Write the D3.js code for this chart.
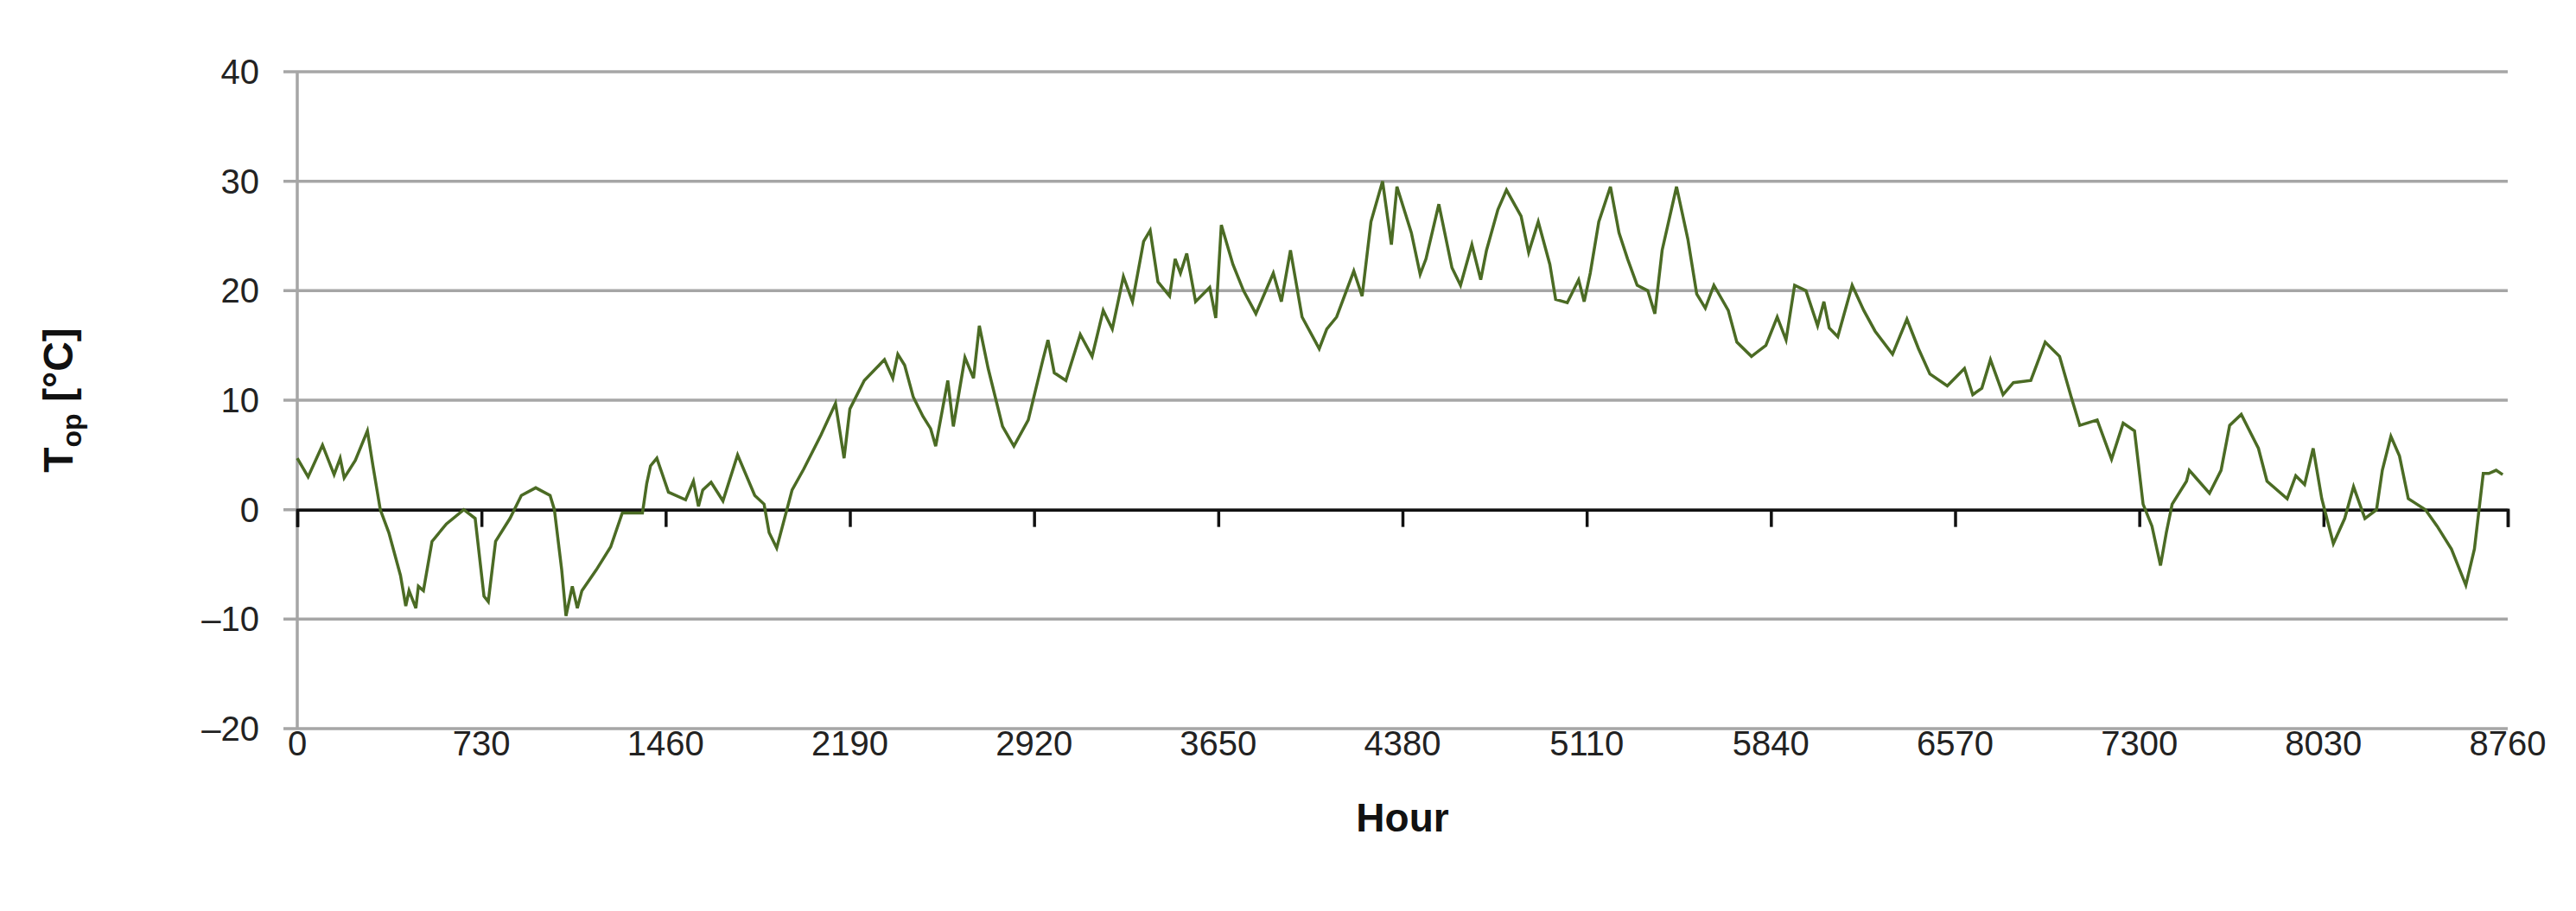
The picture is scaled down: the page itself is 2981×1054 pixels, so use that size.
<!DOCTYPE html>
<html><head><meta charset="utf-8">
<script src="https://cdn.jsdelivr.net/npm/d3@7"></script>
<style>body{margin:0;background:#fff}svg{display:block}</style>
</head><body>
<script>
const hours = [0,43,100,146,170,186,230,278,300,329,363,409,430,443,470,480,500,534,591,660,705,740,757,786,843,888,945,1002,1019,1048,1065,1090,1110,1128,1185,1242,1288,1368,1385,1400,1425,1471,1539,1570,1590,1607,1640,1687,1745,1813,1850,1870,1900,1961,2007,2075,2133,2167,2190,2247,2327,2360,2380,2407,2441,2480,2510,2530,2578,2600,2646,2680,2703,2738,2795,2840,2897,2955,2975,3000,3046,3103,3150,3194,3230,3274,3310,3354,3380,3411,3457,3479,3500,3525,3560,3616,3640,3662,3708,3750,3799,3868,3900,3936,3982,4050,4080,4119,4187,4220,4255,4301,4336,4358,4415,4450,4473,4524,4576,4610,4655,4690,4713,4758,4792,4850,4880,4918,4964,4987,5033,5078,5100,5124,5158,5204,5238,5272,5310,5352,5380,5409,5466,5511,5546,5580,5614,5671,5705,5763,5820,5865,5900,5934,5979,6025,6050,6071,6105,6162,6208,6253,6322,6379,6425,6470,6539,6607,6640,6676,6710,6760,6801,6870,6927,6984,7030,7064,7133,7190,7236,7281,7315,7350,7384,7407,7430,7487,7498,7578,7624,7658,7704,7772,7806,7886,7920,7955,7989,8023,8069,8114,8149,8194,8240,8263,8297,8331,8366,8434,8480,8537,8594,8628,8663,8685,8714,8740];
const temps = [4.7,3.0,5.9,3.2,4.7,2.9,4.5,7.2,4.0,0,-2.1,-6,-8.8,-7.4,-9.0,-7.0,-7.4,-2.9,-1.3,0,-0.8,-7.9,-8.4,-2.9,-0.8,1.3,2.0,1.3,0,-5.5,-9.7,-7.0,-9.0,-7.4,-5.5,-3.4,-0.3,-0.3,2.4,4.0,4.7,1.6,0.9,2.6,0.3,1.8,2.5,0.8,5.0,1.3,0.5,-2.1,-3.5,1.8,3.7,6.8,9.7,4.7,9.2,11.8,13.7,12.0,14.2,13.2,10.3,8.5,7.4,5.8,11.8,7.6,13.9,12.0,16.8,12.9,7.6,5.8,8.2,13.7,15.5,12.5,11.8,16,14.0,18.2,16.5,21.3,19.0,24.5,25.5,20.8,19.5,22.9,21.6,23.4,19.0,20.3,17.5,26,22.4,20.0,17.9,21.6,19.0,23.7,17.6,14.7,16.5,17.6,21.8,19.5,26.3,30,24.2,29.5,25.3,21.5,22.9,27.9,22.1,20.5,24.2,21.0,23.7,27.4,29.2,26.8,23.5,26.3,22.4,19.2,18.9,21,19.0,21.6,26.3,29.5,25.3,22.9,20.5,20,17.9,23.7,29.5,24.7,19.7,18.4,20.5,18.2,15.3,14,15,17.6,15.5,20.5,20,16.8,19.0,16.6,15.8,20.5,18.2,16.3,14.2,17.4,14.7,12.4,11.3,12.9,10.5,11.1,13.7,10.5,11.6,11.8,15.3,14,10.3,7.7,8.2,4.6,7.9,7.2,0.5,-1.5,-5.1,-2.1,0.5,2.6,3.6,1.5,3.6,7.7,8.7,5.6,2.6,1.0,3.1,2.3,5.6,1.0,-3.1,-0.8,2.1,-0.8,0,3.6,6.7,4.9,1.0,0,-1.5,-3.6,-6.9,-3.6,3.3,3.3,3.6,3.2];
const xTicks = [0,730,1460,2190,2920,3650,4380,5110,5840,6570,7300,8030,8760];
const yTicks = [-20,-10,0,10,20,30,40];

const W=2981,H=1054;
const svg=d3.select("body").append("svg").attr("width",W).attr("height",H);
const x=d3.scaleLinear().domain([0,8760]).range([344,2902]);
const y=d3.scaleLinear().domain([-20,40]).range([843,83]);
const font="Liberation Sans, Arial, sans-serif";

svg.append("g").selectAll("line").data(yTicks).join("line")
  .attr("x1",328).attr("x2",2902).attr("y1",d=>y(d)).attr("y2",d=>y(d))
  .attr("stroke","#a6a6a6").attr("stroke-width",3.5);
svg.append("line").attr("x1",344).attr("x2",344).attr("y1",y(40)).attr("y2",y(-20))
  .attr("stroke","#a6a6a6").attr("stroke-width",3.5);
svg.append("g").selectAll("text").data(yTicks).join("text")
  .attr("x",300).attr("y",d=>y(d)).attr("dy","0.35em").attr("text-anchor","end")
  .attr("font-family",font).attr("font-size",40).attr("fill","#222")
  .text(d=>d<0?"\u2013"+Math.abs(d):d);
const xAxis=d3.axisBottom(x).tickValues(xTicks).tickSize(20).tickFormat("");
const gx=svg.append("g").attr("transform",`translate(0,${y(0)})`).call(xAxis);
gx.select(".domain").attr("stroke","#111").attr("stroke-width",3.5);
gx.selectAll(".tick line").attr("stroke","#111").attr("stroke-width",3.5);
svg.append("g").selectAll("text").data(xTicks).join("text")
  .attr("x",d=>x(d)).attr("y",874).attr("text-anchor","middle")
  .attr("font-family",font).attr("font-size",40).attr("fill","#222").text(d=>d);
const line=d3.line().x((d,i)=>x(hours[i])).y(d=>y(d));
svg.append("path").datum(temps).attr("d",line).attr("fill","none")
  .attr("stroke","#4b6b24").attr("stroke-width",3.5).attr("stroke-linejoin","miter");
svg.append("text").attr("x",(344+2902)/2).attr("y",962).attr("text-anchor","middle")
  .attr("font-family",font).attr("font-size",46).attr("font-weight","bold").attr("fill","#111").text("Hour");
const yt=svg.append("text").attr("transform","translate(84,463) rotate(-90)").attr("text-anchor","middle")
  .attr("font-family",font).attr("font-size",48).attr("font-weight","bold").attr("fill","#111");
yt.append("tspan").text("T");
yt.append("tspan").attr("font-size",32).attr("dy",10).text("op");
yt.append("tspan").attr("dy",-10).text(" [°C]");
</script>
</body></html>
